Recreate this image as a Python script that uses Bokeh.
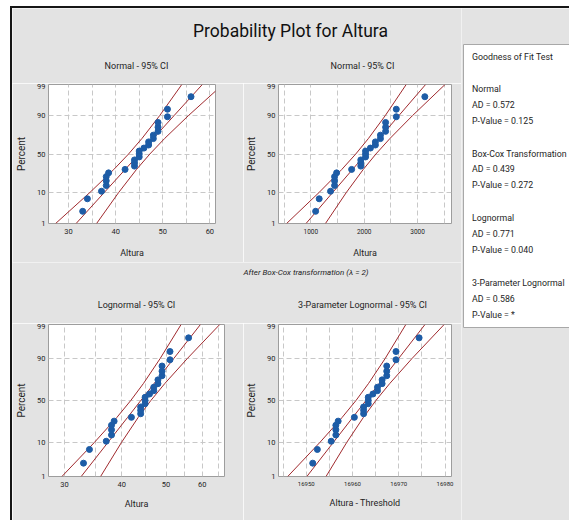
from statistics import NormalDist
from bokeh.plotting import figure
from bokeh.models import Range1d, FixedTicker, BasicTickFormatter, Div
from bokeh.layouts import row, column
from bokeh.embed import file_html
from bokeh.resources import INLINE
from bokeh.core.properties import value

# ---------------- data ----------------
altura = [33, 34, 37, 38, 38, 38, 38.5, 42, 44, 44, 44, 45, 45, 45, 46,
          47, 47, 48, 48, 49, 49, 49, 51, 51, 56]
boxcox_lambda = 2
threshold = -16918.4

percent_ticks = [1, 10, 50, 90, 99]
ci_percents = [1, 10, 30, 50, 70, 90, 99]

# fitted line and 95% CI bands (x value at each ci_percent)
normal_fit = [31.60, 37.62, 41.98, 45.00, 48.02, 52.38, 58.40]
normal_lo = [27.25, 34.57, 39.57, 42.74, 45.61, 49.33, 54.05]
normal_hi = [35.95, 40.67, 44.39, 47.26, 50.43, 55.43, 62.75]

boxcox_fit = [909, 1412, 1777, 2030, 2283, 2648, 3151]
boxcox_lo = [545, 1157, 1576, 1841, 2081, 2393, 2787]
boxcox_hi = [1273, 1667, 1979, 2219, 2485, 2903, 3515]

lognormal_fit = [32.62, 37.33, 41.16, 44.03, 47.11, 51.95, 59.45]
lognormal_lo = [29.60, 34.87, 39.00, 41.86, 44.64, 48.52, 53.93]
lognormal_hi = [35.96, 39.96, 43.43, 46.32, 49.72, 55.62, 65.51]

lognormal3_fit = [16950.13, 16955.86, 16960.02, 16962.90, 16965.78, 16969.94, 16975.67]
lognormal3_lo = [16945.99, 16952.96, 16957.72, 16960.75, 16963.48, 16967.04, 16971.53]
lognormal3_hi = [16954.27, 16958.76, 16962.32, 16965.05, 16968.08, 16972.84, 16979.81]

normal_xticks = [30, 40, 50, 60]
normal_xgrid = [30, 35, 40, 45, 50, 55, 60]
boxcox_xticks = [1000, 2000, 3000]
boxcox_xgrid = [500, 1000, 1500, 2000, 2500, 3000, 3500]
lognormal_xticks = [30, 40, 50, 60]
lognormal_xgrid = [30, 35, 40, 45, 50, 55, 60, 65]
lognormal3_xticks = [16950, 16960, 16970, 16980]
lognormal3_xgrid = [16945, 16950, 16955, 16960, 16965, 16970, 16975, 16980]

main_title = "Probability Plot for Altura"
panel_titles = ["Normal - 95% CI", "Normal - 95% CI", "Lognormal - 95% CI",
                "3-Parameter Lognormal - 95% CI"]
boxcox_note = "After Box-Cox transformation (\u03bb = 2)"

gof_title = "Goodness of Fit Test"
gof_names = ["Normal", "Box-Cox Transformation", "Lognormal", "3-Parameter Lognormal"]
gof_ad = ["0.572", "0.439", "0.771", "0.586"]
gof_p = ["0.125", "0.272", "0.040", "*"]

# ---------------- styles ----------------
FONT = "Roboto"
BG = "#e3e3e3"
RED = "#a02a2e"
BLUE = "#1d5ca6"
GRID = "#c8c8c8"
FRAME = "#9d9d9d"
TXT = "#1e1e1e"

nd = NormalDist()


def z(p):
    return nd.inv_cdf(p / 100.0)


n = len(altura)
plot_z = [z((i - 0.3) / (n + 0.4) * 100) for i in range(1, n + 1)]
ci_z = [z(q) for q in ci_percents]
tick_z = [z(q) for q in percent_ticks]


def panel(xlabel, xs, fit, lo, hi, xr, xticks, xgrid, w, h,
          bl, br, bt, bb, xtype="linear", xtick_size="7.5px", label_standoff=8):
    p = figure(width=w, height=h, x_range=Range1d(*xr),
               y_range=Range1d(z(1), z(99)), x_axis_type=xtype,
               output_backend="svg", toolbar_location=None,
               min_border_left=bl, min_border_right=br,
               min_border_top=bt, min_border_bottom=bb,
               background_fill_color="white", border_fill_color=BG,
               outline_line_color=FRAME, outline_line_width=1)

    p.xgrid.ticker = FixedTicker(ticks=xgrid)
    p.ygrid.ticker = FixedTicker(ticks=tick_z)
    for g in (p.xgrid, p.ygrid):
        g.grid_line_color = GRID
        g.grid_line_dash = "5 3"
        g.grid_line_width = 1

    p.xaxis.ticker = FixedTicker(ticks=xticks)
    p.xaxis.formatter = BasicTickFormatter(use_scientific=False)
    p.yaxis.ticker = FixedTicker(ticks=tick_z)
    p.yaxis.major_label_overrides = {t: str(q) for t, q in zip(tick_z, percent_ticks)}
    for ax in (p.xaxis, p.yaxis):
        ax.axis_line_color = None
        ax.major_tick_line_color = None
        ax.minor_tick_line_color = None
        ax.major_tick_in = 0
        ax.major_tick_out = 0
        ax.major_label_text_font = FONT
        ax.major_label_text_color = TXT
        ax.axis_label_text_font_style = "normal"
        ax.axis_label_text_color = TXT
    p.xaxis.major_label_text_font_size = xtick_size
    p.yaxis.major_label_text_font_size = "7.5px"
    p.xaxis.major_label_standoff = 5
    p.yaxis.major_label_standoff = 3
    p.xaxis.axis_label = xlabel
    p.xaxis.axis_label_text_font = FONT
    p.xaxis.axis_label_text_font_size = "9px"
    p.xaxis.axis_label_standoff = label_standoff
    p.yaxis.axis_label = "Percent"
    p.yaxis.axis_label_text_font = FONT
    p.yaxis.axis_label_text_font_size = "10px"
    p.yaxis.axis_label_standoff = 7

    for series in (lo, fit, hi):
        p.line(series, ci_z, line_color=RED, line_width=1)
    p.scatter(sorted(xs), plot_z, size=6, fill_color=BLUE, line_color=BLUE)
    return p


p1 = panel("Altura", altura, normal_fit, normal_lo, normal_hi,
           (25.74, 61.2), normal_xticks, normal_xgrid, 231, 179, 36, 28, 1, 39,
           label_standoff=11)
p2 = panel("Altura", [a ** boxcox_lambda for a in altura],
           boxcox_fit, boxcox_lo, boxcox_hi, (393, 3636), boxcox_xticks,
           boxcox_xgrid, 218, 179, 30, 10, 1, 39, xtick_size="6.5px",
           label_standoff=11)
p3 = panel("Altura", altura, lognormal_fit, lognormal_lo,
           lognormal_hi, (27.67, 67.1), lognormal_xticks, lognormal_xgrid,
           231, 197, 36, 19, 1, 44, xtype="log", label_standoff=9)
p4 = panel("Altura - Threshold",
           [a - threshold for a in altura], lognormal3_fit, lognormal3_lo,
           lognormal3_hi, (16944.0, 16981.4), lognormal3_xticks,
           lognormal3_xgrid, 218, 197, 30, 10, 1, 44, xtick_size="6px",
           label_standoff=9)


def blank(w, h):
    f = figure(width=w, height=h, x_range=Range1d(0, w), y_range=Range1d(h, 0),
               x_axis_location=None, y_axis_location=None,
               output_backend="svg", toolbar_location=None, min_border=0,
               background_fill_color=BG, border_fill_color=BG,
               outline_line_color=None)
    f.grid.visible = False
    return f


def put_text(f, x, y, txt, size, align="center", style="normal", color=TXT):
    f.text(x=[x], y=[y], text=[txt], text_font=value(FONT), text_font_size=size,
           text_font_style=style, text_align=align, text_baseline="middle",
           text_color=color)


# header strip: main title + titles of the upper panels
head = blank(449, 75)
put_text(head, 278, 22, main_title, "17.5px", color="#111111")
put_text(head, 124, 57, panel_titles[0], "9px")
put_text(head, 350, 57, panel_titles[1], "9px")

# middle strip: Box-Cox note + titles of the lower panels
mid = blank(449, 61)
put_text(mid, 293.5, 10, boxcox_note, "8px", style="italic")
put_text(mid, 124, 42, panel_titles[2], "9px")
put_text(mid, 350, 42, panel_titles[3], "9px")

legend_fig = blank(108, 512)
legend_fig.quad(left=[2], right=[140], top=[36], bottom=[319],
                fill_color="white", line_color="#a8a8a8", line_width=1)
lines, ys = [gof_title], [48.7]
for g, (name, ad, pv) in enumerate(zip(gof_names, gof_ad, gof_p)):
    base = 80.3 + g * 64.7
    lines += [name, "AD = " + ad, "P-Value = " + pv]
    ys += [base, base + 15.9, base + 31.8]
legend_fig.text(x=[10.5] * len(lines), y=ys, text=lines, text_font=value(FONT),
                text_font_size="8.8px",
                text_align="left", text_baseline="middle", text_color=TXT)

WHITE = "#ffffff"
BLACK = "#161616"
top_white = Div(text="", width=569, height=6, margin=(0, 0, 0, 0),
                styles={"background-color": WHITE})
left_white = Div(text="", width=10, height=514, margin=(0, 0, 0, 0),
                 styles={"background-color": WHITE})
top_bar = Div(text="", width=559, height=2, margin=(0, 0, 0, 0),
              styles={"background-color": BLACK})
left_bar = Div(text="", width=2, height=512, margin=(0, 0, 0, 0),
               styles={"background-color": BLACK})

main = column(head, row(p1, p2), mid, row(p3, p4))
inner = column(top_bar, row(left_bar, main, legend_fig))
page = column(top_white, row(left_white, inner))

open("out.html", "w").write(file_html(page, INLINE, title=main_title))
